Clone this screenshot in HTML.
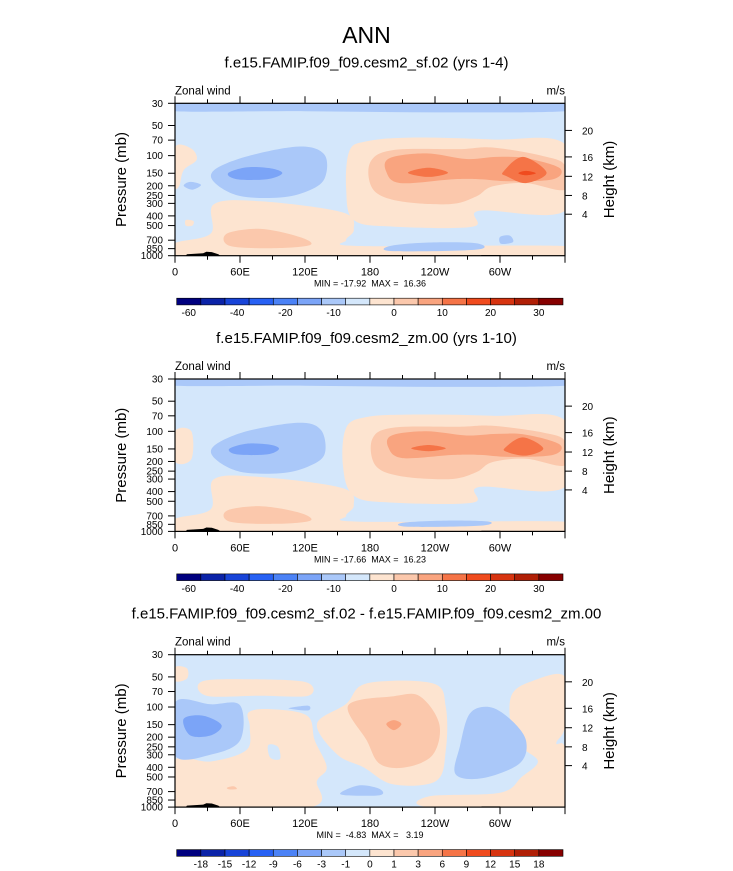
<!DOCTYPE html>
<html><head><meta charset="utf-8"><style>
body{margin:0;background:#fff;}
svg{display:block;font-family:"Liberation Sans",Arial,sans-serif;}
svg text{white-space:pre;}
</style></head>
<body>
<svg id="fig" width="733" height="871" viewBox="0 0 733 871" xmlns="http://www.w3.org/2000/svg">
<text x="366.5" y="43" font-size="23" text-anchor="middle">ANN</text>
</svg>
<script>
// ---- data ----
const colorsMain = ["#00007f","#0b23a8","#1844d8","#2761f4","#4b82f6","#7ba4f7","#aac8f9","#d4e7fb","#fde4d0","#fbc8ac","#f9a47f","#f57447","#f04b1e","#d73410","#b01f06","#870000"];
const cbLabels1 = ["-60","-40","-20","-10","0","10","20","30"];
const cbLabelPos1 = [0.5,2.5,4.5,6.5,9,11,13,15];
const cbLabels3 = ["-18","-15","-12","-9","-6","-3","-1","0","1","3","6","9","12","15","18"];
const cbLabelPos3 = [1,2,3,4,5,6,7,8,9,10,11,12,13,14,15];
const lonTicks = [0,60,120,180,240,300];
const lonLabels = ["0","60E","120E","180","120W","60W"];
const pTicks = [30,50,70,100,150,200,250,300,400,500,700,850,1000];
const zTicks = [20,16,12,8,4];
const zTickP = [56,103,161,250,385];
const titles = ["f.e15.FAMIP.f09_f09.cesm2_sf.02 (yrs 1-4)","f.e15.FAMIP.f09_f09.cesm2_zm.00 (yrs 1-10)","f.e15.FAMIP.f09_f09.cesm2_sf.02 - f.e15.FAMIP.f09_f09.cesm2_zm.00"];
const minmax = ["MIN = -17.92  MAX =  16.36","MIN = -17.66  MAX =  16.23","MIN =  -4.83  MAX =   3.19"];

// contour regions: [colorIndex, [[lon,p],...]]
const regions1 = [
 [6,[[0,30],[120,30],[240,30],[360,30],[360,36],[240,37],[120,36],[0,36]]],
 [8,[[161,90],[177,72],[217,66],[293,69],[360,77],[360,355],[281,355],[275,512],[201,512],[165,440],[158,219]]],
 [9,[[180,118],[201,88],[263,86],[293,83],[340,101],[360,125],[360,219],[324,188],[293,203],[278,256],[254,305],[208,286],[183,219]]],
 [10,[[198,106],[232,95],[269,108],[297,103],[324,106],[355,133],[349,172],[309,180],[281,172],[257,172],[208,188],[195,145]]],
 [11,[[215,148],[234,132],[252,148],[234,163]]],
 [11,[[303,145],[321,103],[343,148],[324,188],[306,160]]],
 [12,[[317,150],[324,142],[333,150],[324,157]]],
 [8,[[0,83],[15,85],[20,110],[8,140],[4,200],[0,200]]],
 [8,[[10,440],[17,450],[16,500],[10,500]]],
 [8,[[0,750],[33,600],[36,305],[79,286],[155,370],[165,550],[158,700],[171,800],[360,800],[360,1000],[0,1000]]],
 [9,[[48,600],[79,540],[115,650],[125,780],[94,840],[51,800]]],
 [6,[[36,140],[66,102],[115,81],[138,98],[138,170],[122,227],[97,262],[60,253],[37,188]]],
 [5,[[49,150],[66,131],[88,134],[99,150],[85,172],[57,172]]],
 [6,[[8,200],[14,183],[24,196],[16,219]]],
 [6,[[198,801],[232,740],[278,750],[278,870],[201,900]]],
 [6,[[300,650],[309,630],[312,730],[301,760]]]
];
const regions2 = [
 [6,[[0,30],[120,30],[240,30],[360,30],[360,35],[240,36],[120,35],[0,35]]],
 [8,[[158,92],[177,72],[217,68],[293,70],[360,78],[360,360],[281,360],[275,515],[201,515],[165,440],[155,219]]],
 [9,[[182,120],[201,92],[263,90],[293,88],[340,103],[360,125],[360,219],[324,188],[293,203],[278,256],[254,300],[208,280],[185,219]]],
 [10,[[200,110],[232,100],[269,110],[297,106],[324,108],[355,135],[349,172],[309,180],[281,172],[257,172],[210,185],[197,145]]],
 [11,[[218,148],[234,137],[250,148],[234,158]]],
 [11,[[305,145],[321,115],[340,148],[324,175],[306,160]]],
 [8,[[0,100],[15,100],[15,190],[0,200]]],
 [8,[[0,750],[33,600],[36,300],[79,286],[155,370],[165,550],[158,700],[171,800],[360,800],[360,1000],[0,1000]]],
 [9,[[48,620],[79,560],[115,650],[125,780],[94,840],[51,800]]],
 [6,[[36,140],[66,100],[115,82],[135,98],[138,170],[122,227],[97,262],[60,253],[37,188]]],
 [5,[[50,150],[66,133],[88,136],[96,150],[85,170],[57,170]]],
 [6,[[210,820],[250,780],[290,800],[280,880],[215,900]]]
];
const regions3 = [
 [8,[[0,40],[11,41],[11,52],[0,55]]],
 [8,[[26,55],[79,53],[122,57],[123,77],[79,77],[29,77]]],
 [8,[[68,113],[88,105],[122,122],[129,216],[140,400],[131,548],[125,1000],[0,1000],[0,339],[33,350],[66,269],[69,159]]],
 [7,[[86,240],[95,250],[97,330],[88,320]]],
 [8,[[131,148],[158,93],[177,58],[238,58],[250,100],[250,269],[241,548],[201,592],[174,400],[150,300]]],
 [9,[[160,96],[202,78],[226,78],[244,148],[238,300],[213,400],[189,370],[177,216]]],
 [10,[[195,148],[202,135],[209,148],[202,170]]],
 [8,[[311,75],[330,55],[360,50],[360,155],[352,230],[360,260],[360,1000],[235,1000],[235,780],[300,720],[320,500],[335,350],[320,250],[310,150]]],
 [6,[[0,90],[33,94],[60,96],[60,216],[33,299],[0,306]]],
 [5,[[8,131],[26,122],[43,152],[33,192],[14,192]]],
 [6,[[272,117],[290,100],[309,131],[324,216],[318,367],[284,513],[259,469],[263,247]]],
 [6,[[154,705],[171,605],[189,660],[189,760],[157,760]]],
 [6,[[106,102],[123,97],[123,108],[108,105]]],
 [9,[[48,640],[54,620],[57,660],[50,665]]]
];
const topo = [[10,1000],[11,965],[26,945],[29,915],[34,920],[40,965],[42,1000]];
const topo2 = [[282,1000],[283,985],[300,985],[302,1000]];

// ---- layout ----
const svg = document.getElementById('fig');
const NS = "http://www.w3.org/2000/svg";
const X0 = 175, X1 = 565, PH = 152.4;
const tops = [103.3, 379, 654.7];
function xS(lon){ return X0 + lon/360*(X1-X0); }
function yS(p, top){ return top + (Math.log(p)-Math.log(30))/(Math.log(1000)-Math.log(30))*PH; }
function el(tag, attrs, parent){ const e=document.createElementNS(NS,tag); for(const k in attrs) e.setAttribute(k,attrs[k]); (parent||svg).appendChild(e); return e; }
function smoothPath(pts){
  const n=pts.length; let d=`M${pts[0][0].toFixed(1)},${pts[0][1].toFixed(1)}`;
  for(let i=0;i<n;i++){
    const p0=pts[(i-1+n)%n],p1=pts[i],p2=pts[(i+1)%n],p3=pts[(i+2)%n];
    const c1=[p1[0]+(p2[0]-p0[0])/6,p1[1]+(p2[1]-p0[1])/6];
    const c2=[p2[0]-(p3[0]-p1[0])/6,p2[1]-(p3[1]-p1[1])/6];
    d+=`C${c1[0].toFixed(1)},${c1[1].toFixed(1)} ${c2[0].toFixed(1)},${c2[1].toFixed(1)} ${p2[0].toFixed(1)},${p2[1].toFixed(1)}`;
  }
  return d+'Z';
}
const allRegions=[regions1,regions2,regions3];
for(let k=0;k<3;k++){
  const top=tops[k], bot=top+PH;
  const g=el('g',{});
  
  
  const t=el('text',{x:366.5,y:top-36,'font-size':15,'text-anchor':'middle'},g);
  t.textContent=titles[k];
  
  
  const zl=el('text',{x:X0,y:top-9,'font-size':11.5},g); zl.textContent='Zonal wind';
  
  
  const ul=el('text',{x:X1,y:top-9,'font-size':11.5,'text-anchor':'end'},g); ul.textContent='m/s';
  
  
  const cid='clip'+k;
  const cp=el('clipPath',{id:cid},g); el('rect',{x:X0,y:top,width:X1-X0,height:PH},cp);
  const pg=el('g',{'clip-path':`url(#${cid})`},g);
  const bg=el('rect',{x:X0,y:top,width:X1-X0,height:PH,fill:colorsMain[7]},pg);
  
  
  allRegions[k].forEach(r=>{
    const pts=r[1].map(q=>[xS(q[0]),yS(q[1],top)]);
    const pa=el('path',{d:smoothPath(pts),fill:colorsMain[r[0]]},pg);
    
    
  });
  [topo,topo2].forEach(tp=>{
    const pts=tp.map(q=>`${xS(q[0]).toFixed(1)},${yS(q[1],top).toFixed(1)}`).join(' ');
    const pl=el('polygon',{points:pts,fill:'#000'},pg);
    
    
  });
  el('rect',{x:X0,y:top,width:X1-X0,height:PH,fill:'none',stroke:'#000','stroke-width':1.2},g);
  for(let lon=0;lon<=360;lon+=30){
    const x=xS(lon), len=lon%60===0?7:4;
    el('line',{x1:x,y1:bot,x2:x,y2:bot+len,stroke:'#000'},g);
    el('line',{x1:x,y1:top,x2:x,y2:top-len,stroke:'#000'},g);
  }
  lonTicks.forEach((lon,i)=>{
    const tx=el('text',{x:xS(lon),y:bot+20,'font-size':11,'text-anchor':'middle'},g);
    tx.textContent=lonLabels[i];
    
    
  });
  const mm=el('text',{x:370,y:bot+31,'font-size':9,'text-anchor':'middle'},g);
  mm.textContent=minmax[k];
  
  
  pTicks.forEach(p=>{
    const y=yS(p,top);
    el('line',{x1:X0-7,y1:y,x2:X0,y2:y,stroke:'#000'},g);
    const tx=el('text',{x:X0-12,y:y+3.5,'font-size':10,'text-anchor':'end'},g);
    tx.textContent=p;
    
    
  });
  zTicks.forEach((z,i)=>{
    const y=yS(zTickP[i],top);
    el('line',{x1:X1,y1:y,x2:X1+7,y2:y,stroke:'#000'},g);
    const tx=el('text',{x:X1+17,y:y+4,'font-size':10},g);
    tx.textContent=z;
    
    
  });
  const ya=el('text',{x:0,y:0,'font-size':15,'text-anchor':'middle',transform:`translate(126,${top+PH/2}) rotate(-90)`},g);
  ya.textContent='Pressure (mb)';
  
  
  const ha=el('text',{x:0,y:0,'font-size':15,'text-anchor':'middle',transform:`translate(614,${top+PH/2}) rotate(-90)`},g);
  ha.textContent='Height (km)';
  
  
  const cbY=bot+42.5, cbX0=176.7, cbW=(563-176.7)/16;
  const cb=el('g',{},g);
  
  
  colorsMain.forEach((c,i)=>{
    el('rect',{x:cbX0+i*cbW,y:cbY,width:cbW,height:6.7,fill:c,stroke:'#000','stroke-width':0.6},cb);
  });
  const labs=k<2?cbLabels1:cbLabels3, pos=k<2?cbLabelPos1:cbLabelPos3;
  labs.forEach((l,i)=>{
    const tx=el('text',{x:cbX0+pos[i]*cbW,y:cbY+18,'font-size':10,'text-anchor':'middle'},cb);
    tx.textContent=l;
    
    
  });
}
</script>
</body></html>
